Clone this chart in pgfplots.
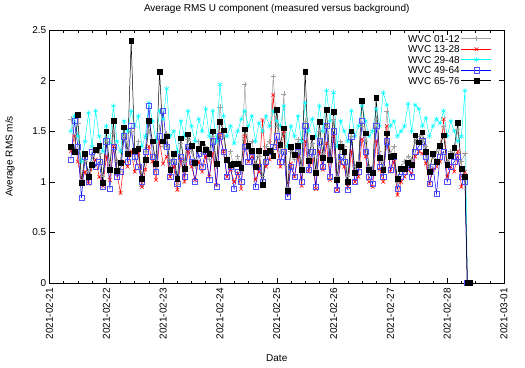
\documentclass[border=0pt]{standalone}
\usepackage{fontspec}
\setmainfont{Liberation Sans}
\usepackage{pgfplots}
\usepackage{pgfplotstable}
\pgfplotsset{compat=1.18}
\definecolor{cgray}{RGB}{160,160,160}
\definecolor{cred}{RGB}{255,0,0}
\definecolor{ccyan}{RGB}{0,255,255}
\definecolor{cblue}{RGB}{0,0,255}
\definecolor{cbluem}{RGB}{80,80,255}
\pgfplotstableread{
h a b c d e
9 1.62 1.30 1.50 1.22 1.35
10.5 1.45 1.45 1.65 1.60 1.30
12 1.58 1.20 1.45 1.35 1.66
13.5 1.00 1.00 1.20 0.84 0.99
15 1.20 1.10 1.40 1.25 1.28
16.5 1.10 0.98 1.68 1.00 1.05
18 1.25 1.15 1.35 1.30 1.17
19.5 1.30 1.22 1.70 1.15 1.32
21 1.28 1.05 1.45 1.20 1.36
22.5 1.05 0.96 1.30 0.95 0.99
24 1.40 1.25 1.55 1.40 1.50
25.5 1.18 1.02 1.38 0.93 1.12
27 1.48 1.35 1.75 1.35 1.60
28.5 1.20 1.08 1.40 1.05 1.11
30 1.10 0.89 1.30 1.10 1.19
31.5 1.45 1.20 1.60 1.45 1.54
33 1.30 1.15 1.50 1.20 1.28
34.5 1.50 1.30 1.70 1.55 2.39
36 1.22 1.10 1.55 1.25 1.31
37.5 1.40 1.28 1.65 1.15 1.33
39 0.96 0.95 1.35 1.00 1.03
40.5 1.30 1.12 1.45 1.30 1.22
42 1.50 1.35 1.78 1.75 1.60
43.5 1.38 1.20 1.60 1.25 1.40
45 1.12 1.02 1.40 1.10 1.18
46.5 1.55 1.40 1.70 1.45 2.09
48 1.35 1.18 1.62 1.70 1.40
49.5 1.48 1.25 1.92 1.35 1.45
51 1.20 1.05 1.45 1.05 1.12
52.5 1.25 1.15 1.50 1.20 1.28
54 0.98 0.92 1.30 0.98 1.03
55.5 1.38 1.22 1.60 1.25 1.43
57 1.20 1.00 1.45 1.05 1.13
58.5 1.42 1.30 1.70 1.35 1.47
60 1.30 1.15 1.55 1.20 1.36
61.5 1.15 1.02 1.40 1.00 1.19
63 1.40 1.20 1.62 1.28 1.33
64.5 1.28 1.10 1.50 1.15 1.38
66 1.35 1.25 1.72 1.30 1.32
67.5 1.22 1.05 1.45 1.02 1.28
69 1.45 1.28 1.70 1.40 1.50
70.5 1.15 0.97 1.40 0.95 1.18
72 1.74 1.48 1.96 1.45 1.59
73.5 1.45 1.30 1.65 1.30 1.51
75 1.20 1.05 1.45 1.05 1.22
76.5 1.30 1.12 1.55 1.15 1.17
78 1.12 1.00 1.38 0.93 1.18
79.5 1.25 1.08 1.50 1.10 1.18
81 1.10 0.93 1.62 1.00 1.14
82.5 1.96 1.45 1.70 1.35 1.52
84 1.32 1.20 1.55 1.20 1.36
85.5 1.40 1.25 1.65 1.25 1.31
87 1.18 1.02 1.40 0.95 1.15
88.5 1.25 1.10 1.58 1.15 1.31
90 1.05 1.61 1.50 1.00 0.97
91.5 1.35 1.15 1.65 1.20 1.29
93 1.40 1.22 1.55 1.30 1.31
94.5 2.04 1.86 1.70 1.35 1.26
96 1.55 1.35 1.60 1.45 1.71
97.5 1.30 1.15 1.55 1.20 1.37
99 1.87 1.50 1.75 1.30 1.53
100.5 0.95 0.88 1.35 0.85 0.91
102 1.30 1.18 1.55 1.15 1.35
103.5 1.22 1.05 1.45 1.05 1.27
105 1.42 1.25 1.65 1.30 1.36
106.5 1.15 0.96 1.40 1.00 1.12
108 1.60 1.40 1.78 1.55 2.09
109.5 1.25 1.10 1.50 1.12 1.21
111 1.38 1.22 1.62 1.30 1.44
112.5 1.12 0.93 1.45 0.95 1.09
114 1.50 1.30 1.75 1.40 1.59
115.5 1.28 1.12 1.50 1.15 1.24
117 1.55 1.38 1.90 1.55 1.71
118.5 1.20 1.02 1.60 1.05 1.22
120 1.62 1.45 1.88 1.50 1.69
121.5 1.05 0.92 1.35 0.92 1.02
123 1.40 1.20 1.60 1.25 1.35
124.5 1.35 1.15 1.50 1.20 1.30
126 1.05 0.95 1.40 0.92 1.00
127.5 1.45 1.30 1.70 1.45 1.50
129 1.15 1.00 1.45 1.00 1.09
130.5 1.20 1.05 1.55 1.10 1.17
132 1.55 1.42 1.75 1.60 1.80
133.5 1.40 1.25 1.60 1.30 1.48
135 1.15 1.00 1.45 1.05 1.12
136.5 1.10 0.95 1.50 0.98 1.09
138 1.62 1.40 1.72 1.55 1.83
139.5 1.30 1.12 1.55 1.15 1.24
141 1.15 1.00 1.88 1.05 1.12
142.5 1.70 1.55 1.76 1.40 1.48
144 1.28 1.10 1.55 1.12 1.25
145.5 1.35 1.20 1.60 1.25 1.26
147 1.00 0.87 1.45 0.93 1.03
148.5 1.15 1.00 1.50 1.05 1.13
150 1.20 1.05 1.55 1.10 1.13
151.5 1.25 1.12 1.77 1.15 1.19
153 1.22 1.08 1.50 1.05 1.17
154.5 1.40 1.25 1.76 1.30 1.46
156 1.45 1.30 1.72 1.35 1.39
157.5 1.42 1.28 1.55 1.40 1.49
159 1.35 1.18 1.63 1.25 1.30
160.5 1.15 0.98 1.45 0.98 1.10
162 1.25 1.12 1.55 1.15 1.28
163.5 1.30 1.15 1.62 0.88 1.20
165 1.38 1.20 1.58 1.25 1.36
166.5 1.55 1.62 1.70 1.30 1.46
168 1.20 1.05 1.45 1.00 1.17
169.5 1.30 1.15 1.60 1.15 1.26
171 1.28 1.10 1.50 1.20 1.34
172.5 1.52 1.30 1.40 1.25 1.58
174 1.20 0.95 1.45 1.05 1.13
175.5 1.28 1.10 1.90 1.00 1.05
176.5 0 0 0 0 0
177.5 0 0 0 0 0
}\data
\begin{document}
\begin{tikzpicture}
\useasboundingbox (0,0) rectangle (525pt,367pt);
\begin{axis}[
  at={(49.5pt,84pt)}, anchor=south west,
  width=454.5pt, height=253pt, scale only axis,
  xmin=0, xmax=192, ymin=0, ymax=2.5,
  xtick={0,24,...,192},
  xticklabels={2021-02-21,2021-02-22,2021-02-23,2021-02-24,2021-02-25,2021-02-26,2021-02-27,2021-02-28,2021-03-01},
  minor x tick num=3,
  ytick={0,0.5,...,2.5},
  xtick pos=both, ytick pos=both, tick align=inside,
  major tick length=5pt, minor tick length=2.5pt,
  every tick/.style={black, line width=0.5pt},
  axis line style={line width=0.8pt},
  /pgf/number format/assume math mode=true,
  font=\fontsize{10}{12}\selectfont,
  xticklabel style={rotate=90, anchor=east, inner sep=5pt},
  yticklabel style={inner sep=3pt},
  title={Average RMS U component (measured versus background)},
  title style={at={(axis description cs:0.5,1.059)}, anchor=center},
  xlabel={Date},
  xlabel style={at={(axis description cs:0.5,-0.296)}, anchor=center},
  ylabel={Average RMS m/s},
  ylabel style={at={(axis description cs:-0.087,0.5)}, anchor=center},
  legend plot pos=right,
  legend cell align=right,
  legend style={at={(axis description cs:0.98,0.995)}, anchor=north east, draw=none, fill=none,
    row sep=0pt, nodes={inner sep=1.5pt, text height=7.5pt, text depth=0pt}},
  legend image code/.code={\draw[mark repeat=2,mark phase=2] plot coordinates {(0pt,0pt) (15pt,0pt) (30pt,0pt)};},
  every axis plot/.append style={line width=0.5pt, mark size=2.6pt},
]
\addplot[cgray, mark=+] table[x=h,y=a] {\data};
\addlegendentry{WVC 01-12}
\addplot[cred, mark=x] table[x=h,y=b] {\data};
\addlegendentry{WVC 13-28}
\addplot[ccyan, mark=asterisk] table[x=h,y=c] {\data};
\addlegendentry{WVC 29-48}
\addplot[cblue, mark=square, mark options={cbluem}] table[x=h,y=d] {\data};
\addlegendentry{WVC 49-64}
\addplot[black, mark=square*, mark size=2.4pt] table[x=h,y=e] {\data};
\addlegendentry{WVC 65-76}
\end{axis}
\end{tikzpicture}
\end{document}
